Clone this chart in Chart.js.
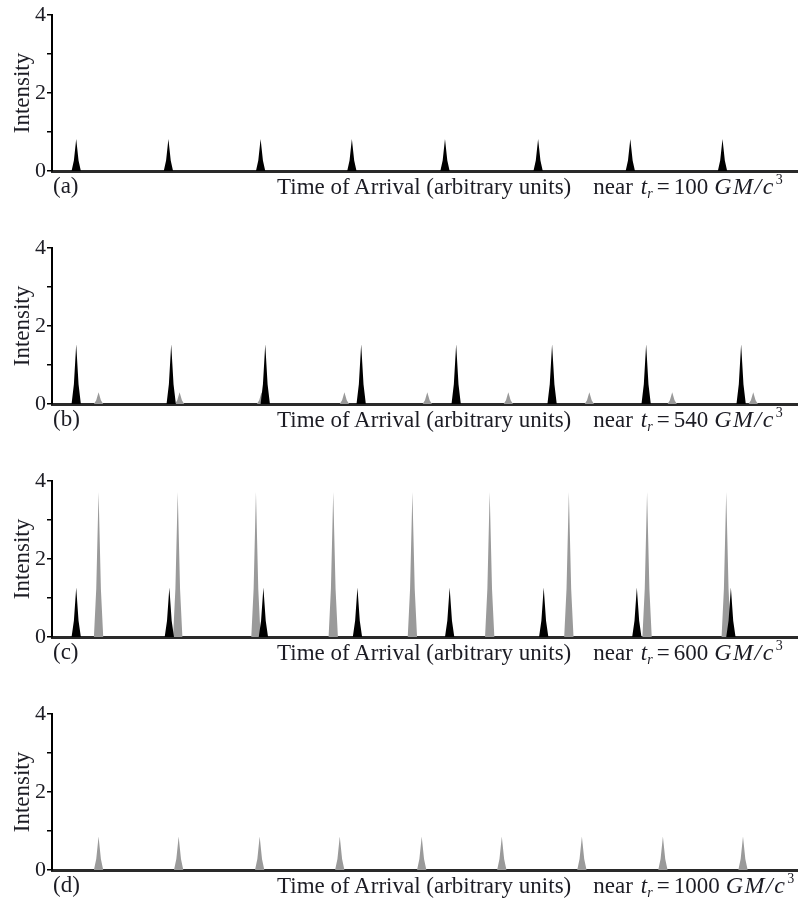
<!DOCTYPE html>
<html>
<head>
<meta charset="utf-8">
<script src="https://cdn.jsdelivr.net/npm/chart.js@4.4.1/dist/chart.umd.min.js"></script>
<style>
  html, body { margin: 0; padding: 0; background: #fff; }
  #wrap { position: relative; width: 802px; height: 900px; overflow: hidden; background: #fff; }
  canvas { position: absolute; left: 0; }
  .cap { position: absolute; font-family: "Liberation Serif", "DejaVu Serif", serif; font-size: 23px; color: #1c1c24; white-space: pre; line-height: 1; }
  .cap i { font-style: italic; }
  .cap sub { font-size: 14px; vertical-align: -4px; line-height: 0; }
  .cap sup { font-size: 14px; vertical-align: 10px; line-height: 0; margin-left: 1px; }
  .cap .near { margin-left: 22px; }
  .cap .tr { margin-left: 8px; }
  .cap .eq { margin-left: 4px; }
  .cap .num { margin-left: 4px; }
  .cap .gm { margin-left: 6px; letter-spacing: 1.5px; font-size: 24px; }
</style>
</head>
<body>
<div id="wrap"></div>
<script>
// ---------------- data (x in arbitrary units, 0..8; y intensity) ----------------
const xRange = [0, 8];
const yTickValues = [0, 1, 2, 3, 4];
const yTickLabels = ["0", "", "2", "", "4"];

// panel (a) near t_r = 100
const aBlackPos    = [0.26, 1.25, 2.24, 3.22, 4.22, 5.22, 6.21, 7.20];
const aBlackHeight = [0.82, 0.82, 0.82, 0.82, 0.82, 0.82, 0.82, 0.82];

// panel (b) near t_r = 540
const bBlackPos    = [0.26, 1.28, 2.29, 3.32, 4.34, 5.37, 6.38, 7.40];
const bBlackHeight = [1.53, 1.53, 1.53, 1.53, 1.53, 1.53, 1.53, 1.53];
const bGrayPos     = [0.50, 1.37, 2.25, 3.14, 4.03, 4.90, 5.77, 6.66, 7.53];
const bGrayHeight  = [0.30, 0.30, 0.30, 0.30, 0.30, 0.30, 0.30, 0.30, 0.30];

// panel (c) near t_r = 600
const cBlackPos    = [0.26, 1.26, 2.27, 3.28, 4.27, 5.28, 6.28, 7.29];
const cBlackHeight = [1.27, 1.27, 1.27, 1.27, 1.27, 1.27, 1.27, 1.27];
const cGrayPos     = [0.50, 1.35, 2.19, 3.02, 3.87, 4.70, 5.55, 6.39, 7.24];
const cGrayHeight  = [3.72, 3.72, 3.72, 3.72, 3.72, 3.72, 3.72, 3.72, 3.72];

// panel (d) near t_r = 1000
const dGrayPos     = [0.50, 1.36, 2.23, 3.09, 3.97, 4.83, 5.69, 6.56, 7.42];
const dGrayHeight  = [0.86, 0.86, 0.86, 0.86, 0.86, 0.86, 0.86, 0.86, 0.86];

const panelLetters = ["(a)", "(b)", "(c)", "(d)"];
const panelTimes   = ["100", "540", "600", "1000"];
const yTitle = "Intensity";
const xCaption = "Time of Arrival (arbitrary units)";

// ---------------- style ----------------
const FONT = '"Liberation Serif", "DejaVu Serif", serif';
const BLACK = '#000000';
const GRAY = '#9a9a9a';
const HALF_W = 0.05;                       // half base width of a peak (x units)
const PROFILE_DX = [-1, -0.5, 0, 0.5, 1];
const PROFILE_FY = [0, 0.33, 1, 0.33, 0];
const areaTops    = [15, 248, 481, 714];
const areaBottoms = [171, 404, 637, 870];
const capTops     = [174, 407, 640, 873];

function peakSeries(pos, hts) {
  const pts = [{x: xRange[0], y: 0}];
  pos.forEach((c, i) => {
    PROFILE_DX.forEach((dx, k) => pts.push({x: c + dx * HALF_W, y: hts[i] * PROFILE_FY[k]}));
  });
  pts.push({x: xRange[1], y: 0});
  return pts;
}

const panels = [
  [{pos: aBlackPos, h: aBlackHeight, c: BLACK}],
  [{pos: bBlackPos, h: bBlackHeight, c: BLACK}, {pos: bGrayPos, h: bGrayHeight, c: GRAY}],
  [{pos: cBlackPos, h: cBlackHeight, c: BLACK}, {pos: cGrayPos, h: cGrayHeight, c: GRAY}],
  [{pos: dGrayPos, h: dGrayHeight, c: GRAY}]
];

const wrap = document.getElementById('wrap');
const PAD_TOP = 15, PAD_BOTTOM = 16;

panels.forEach((series, p) => {
  const cv = document.createElement('canvas');
  const h = areaBottoms[p] - areaTops[p] + PAD_TOP + PAD_BOTTOM;
  cv.width = 802; cv.height = h;
  cv.style.top = (areaTops[p] - PAD_TOP) + 'px';
  cv.style.width = '802px'; cv.style.height = h + 'px';
  wrap.appendChild(cv);

  new Chart(cv, {
    type: 'line',
    data: {
      datasets: series.map((s, i) => ({
        data: peakSeries(s.pos, s.h),
        backgroundColor: s.c,
        borderColor: s.c,
        borderWidth: 0,
        pointRadius: 0,
        fill: 'origin',
        tension: 0,
        order: i
      }))
    },
    options: {
      responsive: false,
      animation: false,
      devicePixelRatio: 1,
      layout: { padding: { left: 0, right: 5, top: PAD_TOP, bottom: PAD_BOTTOM } },
      plugins: { legend: { display: false }, tooltip: { enabled: false } },
      scales: {
        x: {
          type: 'linear', min: xRange[0], max: xRange[1],
          ticks: { display: false },
          grid: { display: false },
          border: { display: true, color: '#2a2a2a', width: 3 },
          afterFit: (s) => { s.height = 0; }
        },
        y: {
          min: 0, max: 4,
          afterBuildTicks: (s) => { s.ticks = yTickValues.map(v => ({value: v})); },
          ticks: {
            autoSkip: false,
            padding: 1,
            color: '#1c1c24',
            font: { family: FONT, size: 22 },
            callback: (v) => yTickLabels[yTickValues.indexOf(v)]
          },
          grid: { drawOnChartArea: false, drawTicks: true, tickLength: 5, color: '#000', lineWidth: 1.5 },
          border: { display: true, color: '#000', width: 2 },
          title: { display: true, text: yTitle, color: '#1c1c24', font: { family: FONT, size: 23 }, padding: { top: 9, bottom: 0 } },
          afterFit: (s) => { s.width = 52; }
        }
      }
    }
  });

  const l = document.createElement('div');
  l.className = 'cap';
  l.style.left = '53px'; l.style.top = capTops[p] + 'px';
  l.textContent = panelLetters[p];
  wrap.appendChild(l);

  const r = document.createElement('div');
  r.className = 'cap';
  r.style.left = '277px'; r.style.top = capTops[p] + 'px';
  r.innerHTML = '<span>' + xCaption + '</span><span class="near">near</span>' +
    '<span class="tr"><i>t</i><sub><i>r</i></sub></span><span class="eq">=</span>' +
    '<span class="num">' + panelTimes[p] + '</span><span class="gm"><i>GM/c</i></span><sup>3</sup>';
  wrap.appendChild(r);
});
</script>
</body>
</html>
